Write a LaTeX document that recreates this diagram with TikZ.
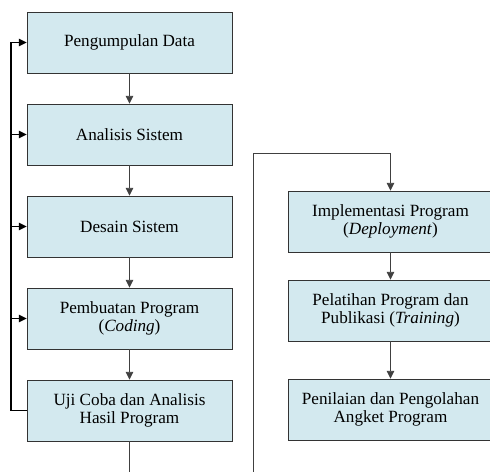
\documentclass[tikz,border=0pt]{standalone}
\usepackage{fontspec}
\setmainfont{Liberation Serif}
\usepackage{xcolor}
\usepackage{tikz}
\usetikzlibrary{arrows.meta,positioning,calc}
\definecolor{boxbg}{HTML}{D3E9EF}
\definecolor{linegray}{HTML}{404040}
\tikzset{
  stepbox/.style = {draw=black!80, fill=boxbg, align=center, inner sep=2pt,
                    minimum width=143.5pt, minimum height=42.7pt,
                    font=\fontsize{12}{12.6}\selectfont},
  ar/.style      = {-{Triangle[length=5.5pt,width=5.2pt]}, draw=linegray, line width=0.6pt},
  fbline/.style  = {draw=black, line width=1pt},
  fbar/.style    = {-{Triangle[length=5.5pt,width=5.2pt]}, draw=black, line width=1pt},
}
\begin{document}
\begin{tikzpicture}[x=0.7pt,y=-0.7pt]
  \useasboundingbox (0,0) rectangle (490,472);
  \clip (0,0) rectangle (490,472);
  % left column
  \foreach \i/\n/\t in {0/kumpul/{Pengumpulan Data},1/analisis/{Analisis Sistem},
                        2/desain/{Desain Sistem},3/coding/{Pembuatan Program\\(\textit{Coding})},
                        4/uji/{Uji Coba dan Analisis\\Hasil Program}} {
     \node[stepbox] (\n) at (129.5,42.5+\i*92) {\t};
  }
  \draw[ar] (kumpul) -- (analisis);
  \draw[ar] (analisis) -- (desain);
  \draw[ar] (desain) -- (coding);
  \draw[ar] (coding) -- (uji);
  \coordinate (outL) at (129.5,472);
  \draw[ar, -] (uji) -- (outL);
  % feedback
  \coordinate (fbbot) at (11,410.5);
  \coordinate (fbtop) at (11,42.5);
  \draw[fbline] (uji.west) -- (fbbot) -- (fbtop);
  \foreach \n in {kumpul,analisis,desain,coding}
     \draw[fbar] (fbtop |- \n.west) -- (\n.west);
  % right column
  \node[stepbox] (impl)  at (390.5,221.5) {Implementasi Program\\(\textit{Deployment})};
  \node[stepbox] (latih) at (390.5,310.5) {Pelatihan Program dan\\Publikasi (\textit{Training})};
  \node[stepbox] (nilai) at (390.5,409.5) {Penilaian dan Pengolahan\\Angket Program};
  \coordinate (outR) at (253,472);
  \coordinate (kink) at (253,153);
  \draw[ar] (outR) -- (kink) -| (impl.north);
  \draw[ar] (impl) -- (latih);
  \draw[ar] (latih) -- (nilai);
\end{tikzpicture}
\end{document}
